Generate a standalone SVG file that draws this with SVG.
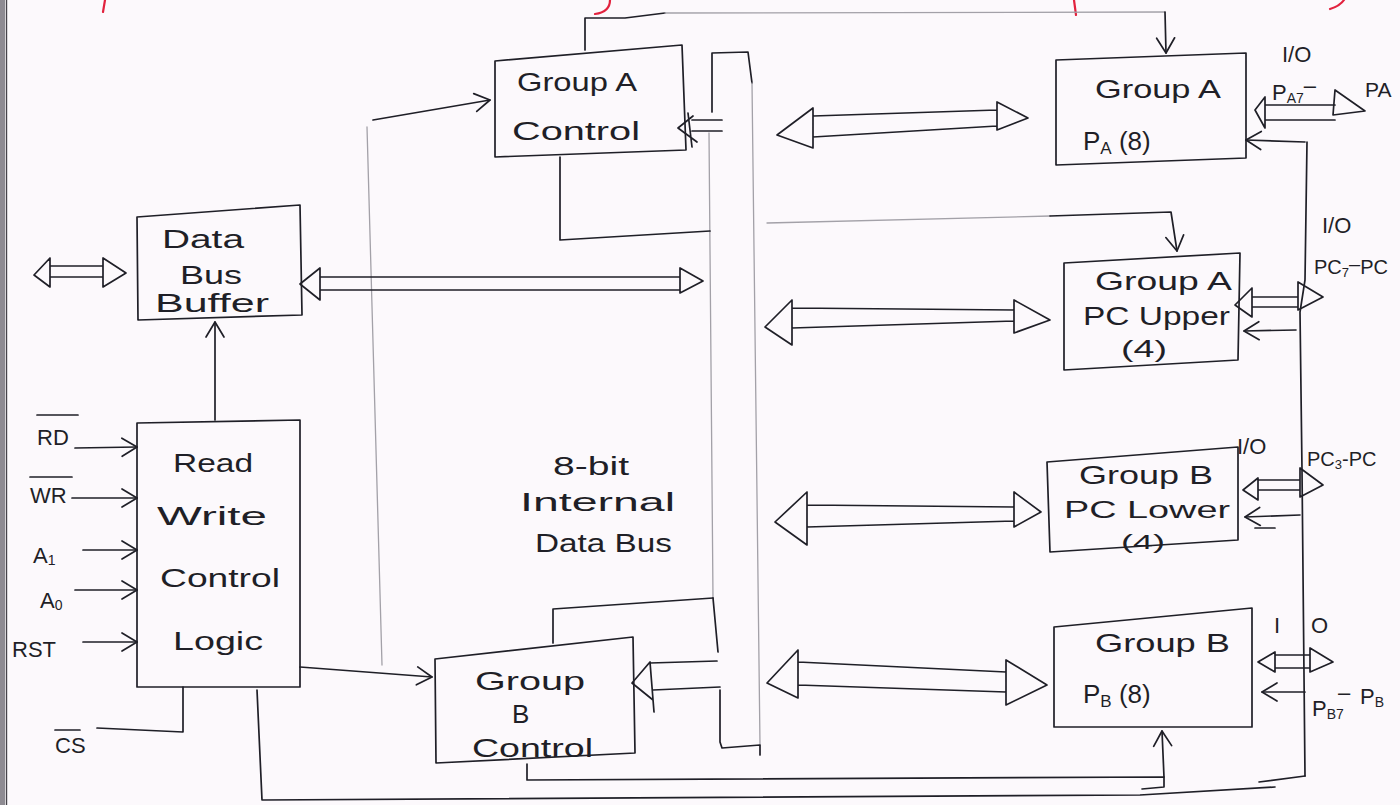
<svg xmlns="http://www.w3.org/2000/svg" width="1400" height="805" viewBox="0 0 1400 805">
<defs>
<style>
.ink{stroke:#1f1f27;stroke-width:1.7;fill:none;stroke-linecap:round;stroke-linejoin:round}
.pen{stroke:#a3a1a8;stroke-width:1.3;fill:none;stroke-linecap:round;stroke-linejoin:round}
.red{stroke:#e2223e;stroke-width:2.2;fill:none;stroke-linecap:round}
.t{font-family:"Liberation Sans",Arial,sans-serif;font-size:26px;fill:#1f1f27}
.s{font-size:22px}
</style>
<marker id="v" viewBox="-17 -11 19 22" refX="0" refY="0" markerWidth="19" markerHeight="22" markerUnits="userSpaceOnUse" orient="auto">
<path d="M-15,-9 L0,0 L-15,9" fill="none" stroke="#1f1f27" stroke-width="1.7" stroke-linecap="round" stroke-linejoin="round"/>
</marker>
</defs>
<rect width="1400" height="805" fill="#fcf9fc"/>
<rect x="0" y="0" width="5" height="805" fill="#8e8b92"/>
<line x1="6.5" y1="0" x2="6.5" y2="805" stroke="#46444a" stroke-width="1.4"/>
<g id="red-marks">
<path class="red" d="M105,0 L103,12"/>
<path class="red" d="M610,0 Q610,12 595,14"/>
<path class="red" d="M1074,0 L1076,15"/>
<path class="red" d="M1344,0 Q1340,6 1330,9"/>
</g>

<g id="internal-bus">
<path class="ink" d="M712,112 L712,53 L748,52 L752,83"/>
<path class="pen" d="M752,83 L760,745 M709,133 L713,598"/>
<path class="ink" d="M713,598 L718,652 M720,690 L720,742 L722,748 L760,745 L760,755"/>
<text class="t" x="553" y="475" textLength="76" lengthAdjust="spacingAndGlyphs">8-bit</text>
<text class="t" x="520" y="511" textLength="155" lengthAdjust="spacingAndGlyphs">Internal</text>
<text class="t" x="535" y="552" textLength="137" lengthAdjust="spacingAndGlyphs">Data Bus</text>
</g>

<g id="data-bus-buffer">
<path class="ink" d="M137,217 L300,205 L302,315 L138,320 Z"/>
<text class="t" x="162" y="248" textLength="82" lengthAdjust="spacingAndGlyphs">Data</text>
<text class="t" x="180" y="284" textLength="62" lengthAdjust="spacingAndGlyphs">Bus</text>
<text class="t" x="155" y="312" textLength="114" lengthAdjust="spacingAndGlyphs">Buffer</text>
</g>

<g id="rw-control-logic">
<path class="ink" d="M137,423 L300,420 L300,687 L137,687 Z"/>
<text class="t" x="173" y="472" textLength="80" lengthAdjust="spacingAndGlyphs">Read</text>
<text class="t" x="157" y="525" textLength="110" lengthAdjust="spacingAndGlyphs">Write</text>
<text class="t" x="160" y="587" textLength="120" lengthAdjust="spacingAndGlyphs">Control</text>
<text class="t" x="173" y="650" textLength="90" lengthAdjust="spacingAndGlyphs">Logic</text>
</g>

<g id="group-a-control">
<path class="ink" d="M495,61 L682,45 L686,150 L495,157 Z"/>
<text class="t" x="517" y="91" textLength="120" lengthAdjust="spacingAndGlyphs">Group A</text>
<text class="t" x="512" y="140" textLength="128" lengthAdjust="spacingAndGlyphs">Control</text>
</g>

<g id="group-b-control">
<path class="ink" d="M435,659 L633,637 L635,753 L436,763 Z"/>
<text class="t" x="475" y="690" textLength="110" lengthAdjust="spacingAndGlyphs">Group</text>
<text class="t" x="512" y="723">B</text>
<text class="t" x="472" y="757" textLength="121" lengthAdjust="spacingAndGlyphs">Control</text>
</g>

<g id="group-a-pa">
<path class="ink" d="M1056,60 L1246,53 L1246,158 L1056,165 Z"/>
<text class="t" x="1095" y="98" textLength="126" lengthAdjust="spacingAndGlyphs">Group A</text>
<text class="t" x="1083" y="150">P<tspan font-size="17" dy="4">A</tspan><tspan dy="-4"> (8)</tspan></text>
</g>

<g id="group-a-pc-upper">
<path class="ink" d="M1064,263 L1240,253 L1238,360 L1064,370 Z"/>
<text class="t" x="1095" y="290" textLength="137" lengthAdjust="spacingAndGlyphs">Group A</text>
<text class="t" x="1083" y="325" textLength="147" lengthAdjust="spacingAndGlyphs">PC Upper</text>
<text class="t" x="1121" y="357" style="font-size:24px" textLength="46" lengthAdjust="spacingAndGlyphs">(4)</text>
</g>

<g id="group-b-pc-lower">
<path class="ink" d="M1047,462 L1238,447 L1238,540 L1050,552 Z"/>
<text class="t" x="1079" y="484" textLength="134" lengthAdjust="spacingAndGlyphs">Group B</text>
<text class="t" x="1064" y="518" style="font-size:24px" textLength="166" lengthAdjust="spacingAndGlyphs">PC Lower</text>
<text class="t" x="1121" y="549" style="font-size:21px" textLength="44" lengthAdjust="spacingAndGlyphs">(4)</text>
</g>

<g id="group-b-pb">
<path class="ink" d="M1054,627 L1252,608 L1252,727 L1054,727 Z"/>
<text class="t" x="1095" y="652" textLength="135" lengthAdjust="spacingAndGlyphs">Group B</text>
<text class="t" x="1083" y="703">P<tspan font-size="17" dy="4">B</tspan><tspan dy="-4"> (8)</tspan></text>
</g>

<g id="pin-labels">
<text class="t s" x="37" y="445">RD</text>
<path class="ink" d="M37,415 L78,415"/>
<text class="t s" x="30" y="503">WR</text>
<path class="ink" d="M30,477 L72,477"/>
<text class="t s" x="33" y="563">A<tspan font-size="14" dy="2">1</tspan></text>
<text class="t s" x="40" y="608">A<tspan font-size="14" dy="2">0</tspan></text>
<text class="t s" x="12" y="657">RST</text>
<text class="t s" x="55" y="753">CS</text>
<path class="ink" d="M55,730 L80,730"/>
<text class="t s" x="1282" y="62">I/O</text>
<text class="t s" x="1272" y="100">P<tspan font-size="14" dy="3">A7</tspan><tspan dy="-10">–</tspan></text>
<text class="t" x="1365" y="97" style="font-size:21px">PA</text>
<text class="t s" x="1322" y="233">I/O</text>
<text class="t" x="1314" y="274" style="font-size:20px">PC<tspan font-size="13" dy="3">7</tspan><tspan dy="-6">–</tspan><tspan dy="3">PC</tspan></text>
<text class="t s" x="1237" y="454">I/O</text>
<text class="t" x="1307" y="466" style="font-size:20px">PC<tspan font-size="13" dy="3">3</tspan><tspan dy="-3">-</tspan>PC</text>
<text class="t s" x="1274" y="633">I<tspan x="1311">O</tspan></text>
<text class="t s" x="1312" y="716">P<tspan font-size="14" dy="3">B7</tspan></text>
<text class="t s" x="1338" y="700">–</text>
<text class="t s" x="1360" y="704">P<tspan font-size="14" dy="3">B</tspan></text>
</g>

<g id="connectors">
<path class="ink" d="M75,448 L137,447" marker-end="url(#v)"/>
<path class="ink" d="M72,498 L137,498" marker-end="url(#v)"/>
<path class="ink" d="M83,550 L137,550" marker-end="url(#v)"/>
<path class="ink" d="M75,590 L137,590" marker-end="url(#v)"/>
<path class="ink" d="M83,642 L137,642" marker-end="url(#v)"/>
<path class="ink" d="M97,728 L183,732 L183,687"/>
<path class="ink" d="M215,420 L215,322" marker-end="url(#v)"/>
<path class="pen" d="M367,127 L382,665"/>
<path class="ink" d="M373,120 L490,100" marker-end="url(#v)"/>
<path class="ink" d="M300,667 L432,677" marker-end="url(#v)"/>
<path class="ink" d="M34,275 L50,258 L50,287 Z M126,273 L103,258 L103,287 Z M50,266 L103,266 M50,277 L103,277"/>
<path class="ink" d="M300,284 L320,268 L320,300 Z M320,277 L680,277 M320,290 L680,290 M703,281 L680,268 L680,293 Z"/>
<path class="ink" d="M678,128 L693,116 M678,128 L697,142 M688,113 L692,147 M692,120 L722,120 M692,131 L722,131"/>
<path class="ink" d="M632,683 L650,662 M632,683 L653,700 M650,662 L654,712 M650,663 L717,661 M653,690 L720,687"/>
<path class="ink" d="M585,50 L585,18 L625,18 L665,13"/>
<path class="pen" d="M665,13 L1165,12"/>
<path class="ink" d="M1165,12 L1166,53" marker-end="url(#v)"/>
<path class="ink" d="M560,157 L560,240 L710,231"/>
<path class="pen" d="M767,223 L1050,216"/>
<path class="ink" d="M1050,216 L1171,212 L1177,251" marker-end="url(#v)"/>
<path class="ink" d="M553,643 L553,609 L713,598"/>
<path class="ink" d="M527,764 L527,780 L1164,777 L1164,787 L1142,789"/>
<path class="ink" d="M1164,777 L1162,731" marker-end="url(#v)"/>
<path class="ink" d="M777,135 L813,108 L813,148 Z M813,116 L997,110 M813,137 L997,126 M1028,118 L997,102 L997,130 Z"/>
<path class="ink" d="M765,327 L792,300 L792,345 Z M792,308 L1014,310 M792,328 L1014,321 M1050,320 L1014,300 L1014,333 Z"/>
<path class="ink" d="M775,522 L807,492 L807,545 Z M807,505 L1014,507 M807,527 L1014,521 M1041,512 L1014,492 L1014,527 Z"/>
<path class="ink" d="M767,683 L798,650 L798,698 Z M798,662 L1006,672 M798,685 L1006,692 M1047,685 L1006,660 L1006,705 Z"/>
<path class="ink" d="M1255,110 L1265,97 L1265,128 Z M1265,105 L1335,105 M1265,120 L1335,120 M1365,111 L1335,90 L1333,115 Z"/>
<path class="ink" d="M1235,305 L1252,288 L1252,317 Z M1252,297 L1298,297 M1252,307 L1298,307 M1323,297 L1298,282 L1298,310 Z"/>
<path class="ink" d="M1243,490 L1258,478 L1258,500 Z M1258,480 L1300,480 M1258,490 L1300,490 M1323,485 L1300,468 L1300,497 Z"/>
<path class="ink" d="M1258,662 L1275,652 L1275,672 Z M1275,655 L1310,655 M1275,668 L1310,668 M1333,662 L1310,648 L1310,672 Z"/>
<path class="ink" d="M1305,142 L1246,140" marker-end="url(#v)"/>
<path class="ink" d="M1296,330 L1244,331" marker-end="url(#v)"/>
<path class="ink" d="M1300,515 L1245,517" marker-end="url(#v)"/>
<path class="ink" d="M1255,528 L1275,528"/>
<path class="ink" d="M1305,692 L1262,692" marker-end="url(#v)"/>
<path class="ink" d="M1307,142 L1305,280 L1300,312 L1302,470 L1305,776"/>
<path class="ink" d="M257,690 L262,800 L1140,795 L1275,787 M1259,782 L1305,776"/>
</g>
</svg>
